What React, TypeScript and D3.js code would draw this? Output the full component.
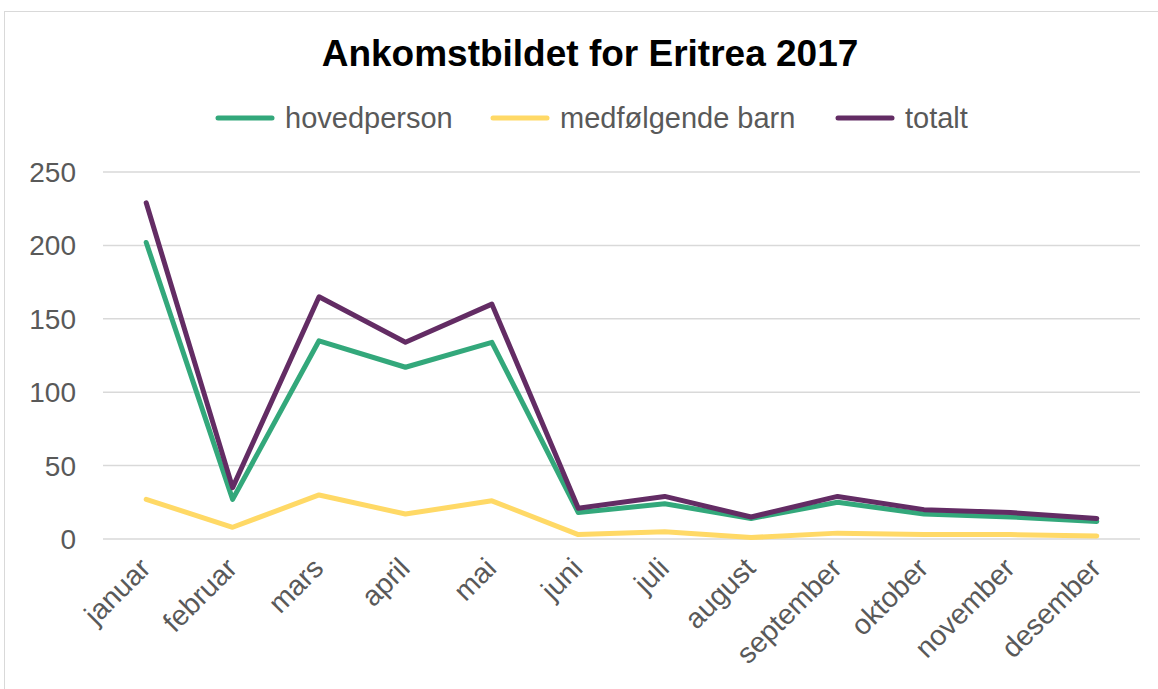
import React from "react";
import * as d3 from "d3";

const months = ["januar","februar","mars","april","mai","juni","juli","august","september","oktober","november","desember"];
const hovedperson = [202, 27, 135, 117, 134, 18, 24, 14, 25, 17, 15, 12];
const medfolgendeBarn = [27, 8, 30, 17, 26, 3, 5, 1, 4, 3, 3, 2];
const totalt = [229, 35, 165, 134, 160, 21, 29, 15, 29, 20, 18, 14];
const yTicks = [0, 50, 100, 150, 200, 250];
const seriesNames = ["hovedperson", "medfølgende barn", "totalt"];
const seriesColors = ["#33a87b", "#ffd966", "#632c64"];

const W = 1158, H = 689;
const plot = { left: 103, right: 1140, top: 172, bottom: 539 };

export default function App() {
  const x = d3.scaleBand<string>().domain(months).range([plot.left, plot.right]);
  const y = d3.scaleLinear().domain([0, 250]).range([plot.bottom, plot.top]);
  const cx = (m: string) => (x(m) as number) + x.bandwidth() / 2;
  const line = d3.line<number>().x((_, i) => cx(months[i])).y(d => y(d));
  const series = [hovedperson, medfolgendeBarn, totalt];
  const font = "'Liberation Sans', Arial, sans-serif";
  const legendX = [218, 493, 838];
  return (
    <svg width={W} height={H} style={{ position: "absolute", left: 0, top: 0 }} fontFamily={font}>
      <rect x={0} y={0} width={W} height={H} fill="#fff" />
      <rect x={4.5} y={11.5} width={W + 10} height={H + 10} fill="#fff" stroke="#d9d9d9" strokeWidth={1} />
      <text x={590} y={66} textAnchor="middle" fontSize={37} fontWeight="bold" fill="#000">Ankomstbildet for Eritrea 2017</text>
      {seriesNames.map((n, i) => (
        <g key={n}>
          <line x1={legendX[i]} x2={legendX[i] + 54} y1={118} y2={118} stroke={seriesColors[i]} strokeWidth={5} strokeLinecap="round" />
          <text x={legendX[i] + 67} y={128} fontSize={29} fill="#595959">{n}</text>
        </g>
      ))}
      {yTicks.map(t => (
        <g key={t}>
          <line x1={plot.left} x2={plot.right} y1={y(t)} y2={y(t)} stroke="#d9d9d9" strokeWidth={1.5} />
          <text x={76} y={y(t) + 10} textAnchor="end" fontSize={28} fill="#595959">{t}</text>
        </g>
      ))}
      {months.map(m => (
        <text key={m} transform={`translate(${cx(m) + 6},${570}) rotate(-45)`} textAnchor="end" fontSize={28.5} fill="#595959">{m}</text>
      ))}
      {series.map((s, i) => (
        <path key={i} d={line(s) as string} fill="none" stroke={seriesColors[i]} strokeWidth={5} strokeLinejoin="round" strokeLinecap="round" />
      ))}
    </svg>
  );
}
